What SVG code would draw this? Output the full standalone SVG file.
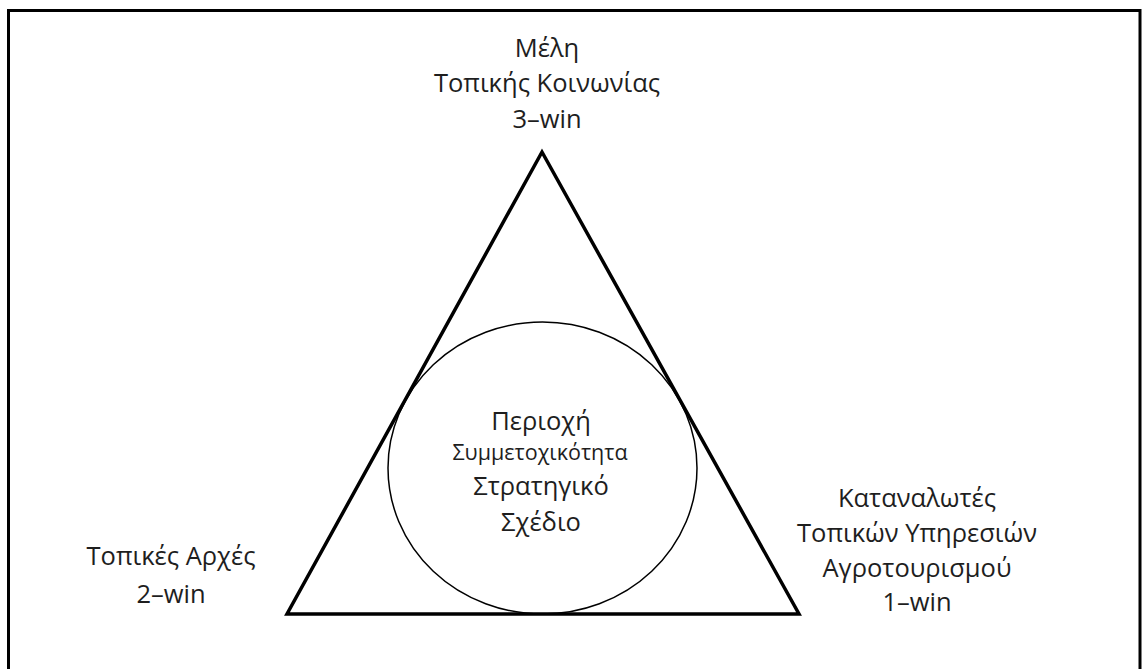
<svg xmlns="http://www.w3.org/2000/svg" width="1142" height="669" viewBox="0 0 1142 669">
<style>
text{font-family:"Open Sans","Liberation Sans",sans-serif;font-size:25.5px;fill:#1e1e1e;text-anchor:middle}
.sm{font-size:21.5px}
</style>
<rect width="1142" height="669" fill="#fff"/>
<rect x="8.5" y="10.5" width="1131.5" height="700" fill="none" stroke="#000" stroke-width="3"/>
<g id="connectors">
<polygon points="542,152 287,614 799,614" fill="none" stroke="#000" stroke-width="3.5" stroke-linejoin="miter"/>
</g>
<g id="circle">
<ellipse cx="542.5" cy="468" rx="154.5" ry="146" fill="none" stroke="#000" stroke-width="1.5"/>
<text x="541" y="430">Περιοχή</text>
<text class="sm" x="540" y="460">Συμμετοχικότητα</text>
<text x="541" y="495">Στρατηγικό</text>
<text x="541" y="531">Σχέδιο</text>
</g>
<g id="top">
<text x="547" y="57">Μέλη</text>
<text x="547" y="92">Τοπικής Κοινωνίας</text>
<text x="547" y="128">3–win</text>
</g>
<g id="left">
<text x="171" y="565">Τοπικές Αρχές</text>
<text x="171" y="603">2–win</text>
</g>
<g id="right">
<text x="917" y="507">Καταναλωτές</text>
<text x="917" y="542">Τοπικών Υπηρεσιών</text>
<text x="917" y="577">Αγροτουρισμού</text>
<text x="917" y="611">1–win</text>
</g>
</svg>
